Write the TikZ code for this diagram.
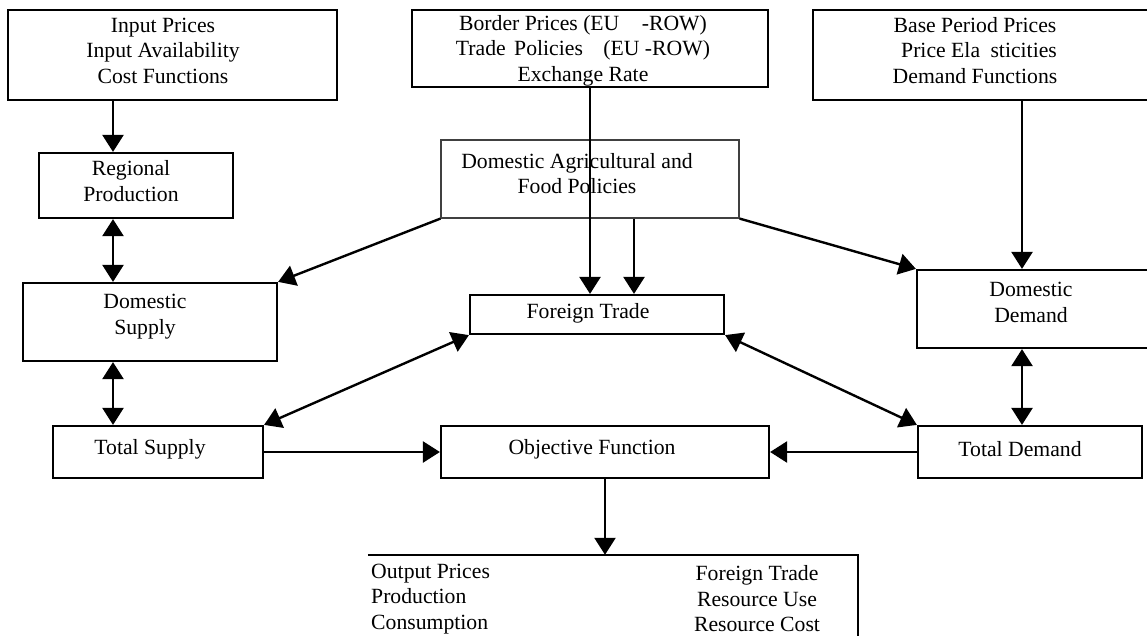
\documentclass[tikz,border=0pt]{standalone}
\usepackage{fontspec}
\setmainfont{Liberation Serif}
\usetikzlibrary{arrows.meta}
\tikzset{
  box/.style={draw, line width=2.2pt, rectangle, inner sep=0pt},
  thinbox/.style={draw=black!75, line width=1.2pt, rectangle, inner sep=0pt},
  txt/.style={font=\fontsize{21.7}{25.5}\selectfont, align=center, inner sep=0pt},
  conn/.style={line width=2.4pt, -{Triangle[length=17pt,width=21pt]}},
  dconn/.style={line width=2.4pt, {Triangle[length=17pt,width=21pt]}-{Triangle[length=17pt,width=21pt]}},
}
\begin{document}
\begin{tikzpicture}[x=1pt,y=-1pt]
\useasboundingbox (0,0) rectangle (1147,636);
\clip (0,0) rectangle (1147,636);
\fill[white] (0,0) rectangle (1147,636);
% boxes
\node[box, minimum width=329pt, minimum height=90pt] (inp) at (172.5,55) {};
\node[box, minimum width=356pt, minimum height=77pt] (bord) at (590,48.5) {};
\node[box, minimum width=340pt, minimum height=90pt] (base) at (983,55) {};
\node[box, minimum width=194pt, minimum height=65pt] (reg) at (136,185.5) {};
\node[thinbox, minimum width=298pt, minimum height=78pt] (pol) at (590,179) {};
\node[box, minimum width=254pt, minimum height=78pt] (ds) at (150,322) {};
\node[box, minimum width=254pt, minimum height=39pt] (ft) at (597,314.5) {};
\node[box, minimum width=240pt, minimum height=78pt] (dd) at (1037,309) {};
\node[box, minimum width=210pt, minimum height=52pt] (ts) at (158,452) {};
\node[box, minimum width=328pt, minimum height=52pt] (obj) at (605,452) {};
\node[box, minimum width=224pt, minimum height=52pt] (td) at (1030,452) {};
\node[minimum width=490pt, minimum height=85pt, inner sep=0pt] (out) at (613,597.5) {};
\draw[line width=2.2pt] (out.north west) -- (out.north east) -- (out.south east);
% texts
\node[txt] (inpT) at (163,50.5) {Input Prices\\Input Availability\\Cost Functions};
\node[txt] (bordT) at (583,50.5) {Border Prices (EU\hspace{17pt} -ROW)\\Trade\hspace{3pt} Policies\hspace{15pt} (EU -ROW)\\Exchange Rate};
\node[txt] (baseT) at (975,50.5) {Base Period Prices\\\hspace{8pt}Price Ela\hspace{5pt} sticities\\Demand Functions};
\node[txt] (regT) at (131,181) {Regional\\Production};
\node[txt] (polT) at (577,173.5) {Domestic Agricultural and\\Food Policies};
\node[txt] (dsT) at (145,316.5) {Domestic\\Supply};
\node[txt] (ftT) at (588,313) {Foreign Trade};
\node[txt] (ddT) at (1031,302.5) {Domestic\\Demand};
\node[txt] (tsT) at (150,449) {Total Supply};
\node[txt] (objT) at (592,449) {Objective Function};
\node[txt] (tdT) at (1020,449) {Total Demand};
\node[txt, align=left, anchor=west] (outL) at (371,599) {Output Prices\\Production\\Consumption};
\node[txt] (outR) at (757,599) {Foreign Trade\\Resource Use\\Resource Cost};
% connectors
\draw[conn] (inp.south -| 113,0) -- (reg.north -| 113,0);
\draw[dconn] (reg.south -| 113,0) -- (ds.north -| 113,0);
\draw[dconn] (ds.south -| 113,0) -- (ts.north -| 113,0);
\draw[conn] (bord.south -| 590,0) -- (ft.north -| 590,0);
\draw[conn] (pol.south -| 634,0) -- (ft.north -| 634,0);
\draw[conn] (pol.south west) -- (ds.north east);
\draw[conn] (pol.south east) -- (dd.north west);
\draw[conn] (base.south -| 1022,0) -- (dd.north -| 1022,0);
\draw[dconn] (dd.south -| 1022,0) -- (td.north -| 1022,0);
\draw[dconn] (ft.south west) -- (ts.north east);
\draw[dconn] (ft.south east) -- (td.north west);
\draw[conn] (ts.east) -- (obj.west);
\draw[conn] (td.west) -- (obj.east);
\draw[conn] (obj.south -| 605,0) -- (out.north -| 605,0);
\end{tikzpicture}
\end{document}
